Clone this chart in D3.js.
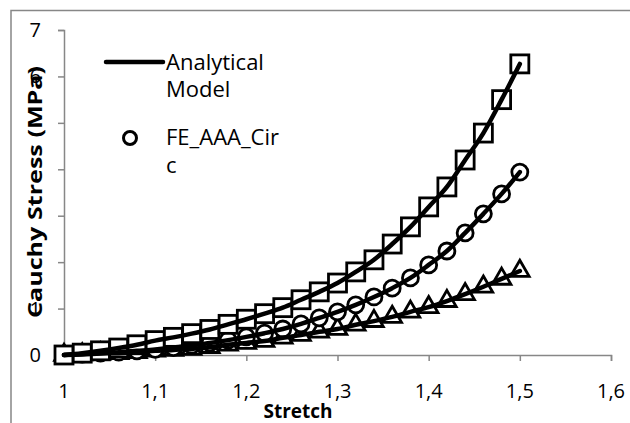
<!DOCTYPE html>
<html>
<head>
<meta charset="utf-8">
<script src="https://cdn.jsdelivr.net/npm/d3@7"></script>
<style>
  body { margin: 0; background: #fff; }
  text { font-family: "Open Sans", sans-serif; fill: #000; }
</style>
</head>
<body>
<script>
// stretch values shared by all three series
var stretch = [1.00, 1.02, 1.04, 1.06, 1.08, 1.10, 1.12, 1.14, 1.16, 1.18, 1.20, 1.22, 1.24,
    1.26, 1.28, 1.30, 1.32, 1.34, 1.36, 1.38, 1.40, 1.42, 1.44, 1.46, 1.48, 1.50];

// Cauchy stress (MPa) for each series
var squareStress = [0, 0.04, 0.09, 0.15, 0.22, 0.31, 0.38, 0.46, 0.55, 0.66, 0.77, 0.89, 1.02,
    1.19, 1.36, 1.55, 1.79, 2.05, 2.39, 2.76, 3.19, 3.62, 4.20, 4.78, 5.50, 6.27];
var circleStress = [0, 0.02, 0.04, 0.06, 0.09, 0.12, 0.16, 0.21, 0.26, 0.32, 0.39, 0.47, 0.56,
    0.67, 0.80, 0.93, 1.08, 1.25, 1.44, 1.66, 1.94, 2.24, 2.63, 3.04, 3.47, 3.94];
var triangleStress = [0, 0.01, 0.03, 0.04, 0.06, 0.09, 0.11, 0.13, 0.17, 0.22, 0.26, 0.30, 0.37,
    0.43, 0.50, 0.56, 0.65, 0.73, 0.82, 0.93, 1.03, 1.16, 1.31, 1.47, 1.64, 1.81];

var xTicks = [1, 1.1, 1.2, 1.3, 1.4, 1.5, 1.6];
var xTickLabels = ["1", "1,1", "1,2", "1,3", "1,4", "1,5", "1,6"];
var yTicks = [0, 1, 2, 3, 4, 5, 6, 7];
var yTickLabels = ["0", "1", "", "", "", "", "6", "7"];   // 2..5 hidden under the axis title

var legendNames = ["Analytical", "Model", "FE_AAA_Cir", "c"];

var W = 630, H = 423;
var x = d3.scaleLinear().domain([1, 1.6]).range([64, 611]);
var y = d3.scaleLinear().domain([0, 7]).range([355, 30]);

var svg = d3.select("body").append("svg")
    .attr("width", W)
    .attr("height", H);

// outer chart frame (runs off the right and bottom)
svg.append("rect")
    .attr("x", 11).attr("y", 10.5)
    .attr("width", 700).attr("height", 500)
    .attr("fill", "none")
    .attr("stroke", "#878787")
    .attr("stroke-width", 1.5);

// axes
var xAxis = d3.axisBottom(x).tickValues(xTicks).tickSize(6).tickFormat("");
var yAxis = d3.axisLeft(y).tickValues(yTicks).tickSize(6).tickFormat("");

var gx = svg.append("g").attr("transform", "translate(0," + y(0) + ")").call(xAxis);
var gy = svg.append("g").attr("transform", "translate(" + x(1) + ",0)").call(yAxis);
[gx, gy].forEach(function(g) {
    g.select(".domain").attr("stroke", "#878787").attr("stroke-width", 1.5);
    g.selectAll(".tick line").attr("stroke", "#878787").attr("stroke-width", 1.5);
});

svg.selectAll(".xlab")
    .data(xTicks)
  .enter().append("text")
    .attr("x", function(d) { return x(d); })
    .attr("y", 398)
    .attr("text-anchor", "middle")
    .attr("font-size", 20)
    .text(function(d, i) { return xTickLabels[i]; });

svg.selectAll(".ylab")
    .data(yTicks)
  .enter().append("text")
    .attr("x", 41)
    .attr("y", function(d) { return y(d) + 7; })
    .attr("text-anchor", "end")
    .attr("font-size", 20)
    .text(function(d, i) { return yTickLabels[i]; });

// axis titles
svg.append("text")
    .attr("x", 298).attr("y", 418)
    .attr("text-anchor", "middle")
    .attr("font-size", 19)
    .attr("font-weight", "bold")
    .text("Stretch");

svg.append("text")
    .attr("transform", "translate(42,192) rotate(-90)")
    .attr("text-anchor", "middle")
    .attr("font-size", 20)
    .attr("font-weight", "bold")
    .attr("textLength", 252)
    .attr("lengthAdjust", "spacingAndGlyphs")
    .text("Cauchy Stress (MPa)");

// series
var line = d3.line()
    .x(function(d) { return x(d[0]); })
    .y(function(d) { return y(d[1]); })
    .curve(d3.curveMonotoneX);

function pairs(vals) {
    return stretch.map(function(s, i) { return [s, vals[i]]; });
}

var sq = pairs(squareStress), ci = pairs(circleStress), tr = pairs(triangleStress);

var marks = svg.append("g")
    .attr("fill", "#fff")
    .attr("stroke", "#000")
    .attr("stroke-width", 2.8);

marks.selectAll(".tri")
    .data(tr)
  .enter().append("path")
    .attr("d", d3.symbol().type(d3.symbolTriangle).size(150))
    .attr("transform", function(d) { return "translate(" + x(d[0]) + "," + y(d[1]) + ")"; });

marks.selectAll(".circ")
    .data(ci)
  .enter().append("circle")
    .attr("cx", function(d) { return x(d[0]); })
    .attr("cy", function(d) { return y(d[1]); })
    .attr("r", 8);

marks.selectAll(".sq")
    .data(sq)
  .enter().append("rect")
    .attr("x", function(d) { return x(d[0]) - 9; })
    .attr("y", function(d) { return y(d[1]) - 9; })
    .attr("width", 18)
    .attr("height", 18);

[sq, ci, tr].forEach(function(s) {
    svg.append("path")
        .datum(s)
        .attr("d", line)
        .attr("fill", "none")
        .attr("stroke", "#000")
        .attr("stroke-width", 4.5)
        .attr("stroke-linecap", "round");
});

// legend
svg.append("line")
    .attr("x1", 106).attr("x2", 163)
    .attr("y1", 62).attr("y2", 62)
    .attr("stroke", "#000")
    .attr("stroke-width", 4.5)
    .attr("stroke-linecap", "round");

svg.append("circle")
    .attr("cx", 130).attr("cy", 138)
    .attr("r", 6.5)
    .attr("fill", "#fff")
    .attr("stroke", "#000")
    .attr("stroke-width", 3);

svg.selectAll(".leg")
    .data(legendNames)
  .enter().append("text")
    .attr("x", 166)
    .attr("y", function(d, i) { return [70, 97, 145, 173][i]; })
    .attr("font-size", 22)
    .text(function(d) { return d; });
</script>
</body>
</html>
